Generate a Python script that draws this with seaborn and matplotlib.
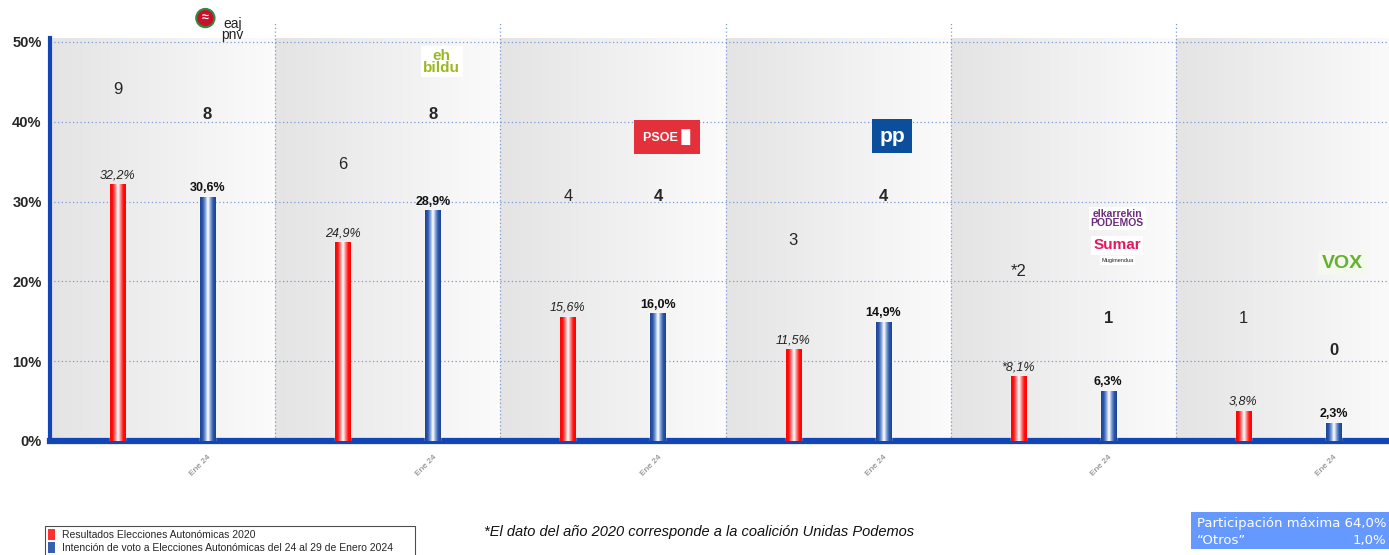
import matplotlib
matplotlib.use("Agg")
import matplotlib.pyplot as plt
import numpy as np
import pandas as pd
import seaborn as sns
from matplotlib.colors import LinearSegmentedColormap
from matplotlib.patches import Patch, Rectangle

# Data
parties = ["PNV", "EH Bildu", "PSOE", "PP", "Podemos/Sumar", "VOX"]
votes_2020 = [32.2, 24.9, 15.6, 11.5, 8.1, 3.8]
votes_2024 = [30.6, 28.9, 16.0, 14.9, 6.3, 2.3]
seats_2020 = [9, 6, 4, 3, 2, 1]
seats_2024 = [8, 8, 4, 4, 1, 0]
starred_2020 = [False, False, False, False, True, False]
tick_labels = ["Ene 24"] * 6
series_names = ["Resultados Elecciones Autonómicas 2020",
                "Intención de voto a Elecciones Autonómicas del 24 al 29 de Enero 2024"]

# Layout: heights (in % units) where the seat numbers sit
seat_y_2020 = [44.0, 34.6, 30.7, 25.1, 21.2, 15.4]
seat_y_2024 = [40.9, 40.9, 30.7, 30.7, 15.4, 11.4]

sns.set_theme(style="white")
plt.rcParams["font.family"] = ["Liberation Sans", "DejaVu Sans"]

df = pd.DataFrame({
    "party": parties * 2,
    "serie": [series_names[0]] * 6 + [series_names[1]] * 6,
    "value": votes_2020 + votes_2024,
})

fig = plt.figure(figsize=(13.89, 5.55), dpi=100)
ax = fig.add_axes([50 / 1389, 114 / 555, 1351 / 1389, 403 / 555])

sns.barplot(data=df, x="party", y="value", hue="serie", hue_order=series_names,
            palette=["#ff0000", "#1f4fa8"], width=0.8, legend=False, ax=ax)

# panel backgrounds (light grey horizontal gradient)
bg = np.linspace(0, 1, 64).reshape(1, -1)
bg_cmap = LinearSegmentedColormap.from_list("bg", ["#e4e4e4", "#fbfbfb"])
for i in range(len(parties)):
    ax.imshow(bg, cmap=bg_cmap, extent=(i - 0.5, i + 0.5, 0, 50.5),
              aspect="auto", zorder=0)

# thin cylinder-like bars
bar_w = 0.067
grad = np.abs(np.linspace(-1, 1, 64)).reshape(1, -1)
cmaps = [LinearSegmentedColormap.from_list("r", ["#ffffff", "#ff8080", "#ff1010", "#ff0000"]),
         LinearSegmentedColormap.from_list("b", ["#ffffff", "#7f9fd6", "#2a56a8", "#1c4494"])]
for cont, cm in zip(ax.containers, cmaps):
    for bar in cont:
        cx = bar.get_x() + bar.get_width() / 2
        bar.set_width(bar_w)
        bar.set_x(cx - bar_w / 2)
        bar.set_zorder(3)
        im = ax.imshow(grad, cmap=cm, extent=(cx - bar_w / 2, cx + bar_w / 2, 0, bar.get_height()),
                       aspect="auto", zorder=4)
        im.set_clip_path(bar)

ax.set_xlim(-0.5, 5.5)
ax.set_ylim(0, 50.5)


def fmt(v):
    return f"{v:.1f}".replace(".", ",") + "%"


# value labels
for i, bar in enumerate(ax.containers[0]):
    txt = ("*" if starred_2020[i] else "") + fmt(votes_2020[i])
    ax.annotate(txt, (bar.get_x() + bar_w / 2, bar.get_height()), xytext=(0, 2),
                textcoords="offset points", ha="center", va="bottom",
                fontsize=9, fontstyle="italic", color="#222222", zorder=6)
for i, bar in enumerate(ax.containers[1]):
    ax.annotate(fmt(votes_2024[i]), (bar.get_x() + bar_w / 2, bar.get_height()), xytext=(0, 2),
                textcoords="offset points", ha="center", va="bottom",
                fontsize=9, fontweight="bold", color="#111111", zorder=6)

# seat numbers
for i in range(len(parties)):
    s = ("*" if starred_2020[i] else "") + str(seats_2020[i])
    ax.text(i - 0.2, seat_y_2020[i], s, ha="center", va="center", fontsize=12, zorder=6)
    ax.text(i + 0.2, seat_y_2024[i], str(seats_2024[i]), ha="center", va="center",
            fontsize=12, fontweight="bold", zorder=6)

# party "logos" as styled text
ax.text(0.19, 53.0, "\u2248", ha="center", va="center", fontsize=9, fontweight="bold",
        color="white", clip_on=False, zorder=6,
        bbox=dict(boxstyle="circle,pad=0.25", fc="#c8102e", ec="#2e8b3e", lw=1.5))
ax.text(0.31, 51.6, "eaj\npnv", ha="center", va="center", fontsize=10, linespacing=0.75,
        color="#222222", clip_on=False, zorder=6)
ax.text(1.24, 47.5, "eh\nbildu", ha="center", va="center", fontsize=11, fontweight="bold",
        linespacing=0.85, color="#9cb820", zorder=6,
        bbox=dict(boxstyle="square,pad=0.15", fc="white", ec="none"))
ax.text(2.24, 38.1, "PSOE \u2588", ha="center", va="center", fontsize=9, fontweight="bold",
        color="white", zorder=6,
        bbox=dict(boxstyle="square,pad=0.75", fc="#e4303a", ec="none"))
ax.text(3.24, 38.2, "pp", ha="center", va="center", fontsize=15, fontweight="bold",
        color="white", zorder=6,
        bbox=dict(boxstyle="square,pad=0.35", fc="#0b4f9c", ec="none"))
ax.text(4.24, 27.9, "elkarrekin\nPODEMOS", ha="center", va="center", fontsize=7.5,
        fontweight="bold", linespacing=0.9, color="#6b2c7c", zorder=6,
        bbox=dict(boxstyle="square,pad=0.2", fc="white", ec="none"))
ax.text(4.24, 24.5, "Sumar", ha="center", va="center", fontsize=11, fontweight="bold",
        color="#e5185c", zorder=6,
        bbox=dict(boxstyle="square,pad=0.15", fc="white", ec="none"))
ax.text(4.24, 22.6, "Mugimendua", ha="center", va="center", fontsize=4, color="#222222",
        zorder=6, bbox=dict(boxstyle="square,pad=0.3", fc="white", ec="none"))
ax.text(5.24, 22.3, "VOX", ha="center", va="center", fontsize=14, fontweight="bold",
        color="#63b22f", zorder=6,
        bbox=dict(boxstyle="square,pad=0.2", fc="#f4f8ef", ec="none"))

# grid and panel separators
grid_kw = dict(color="#7d9ad8", linestyle=(0, (1, 2)), linewidth=0.9, zorder=1)
for y in [10, 20, 30, 40, 50]:
    ax.axhline(y, **grid_kw)
for i in range(len(parties) - 1):
    ax.axvline(i + 0.5, ymin=0, ymax=1.04, clip_on=False, **grid_kw)

# axes styling
ax.set_xlabel("")
ax.set_ylabel("")
ax.set_yticks([0, 10, 20, 30, 40, 50])
ax.set_yticklabels(["0%", "10%", "20%", "30%", "40%", "50%"], fontsize=10.5, fontweight="bold")
ax.set_xticks([i + 0.2 for i in range(len(parties))])
ax.set_xticklabels(tick_labels, rotation=45, ha="right", va="top", rotation_mode="anchor",
                   fontsize=6, color="#777777")
ax.tick_params(axis="both", length=0)
ax.tick_params(axis="y", pad=6)
ax.tick_params(axis="x", pad=9)
for side in ["top", "right"]:
    ax.spines[side].set_visible(False)
ax.spines["left"].set_color("#1145b8")
ax.spines["left"].set_linewidth(3)
ax.spines["bottom"].set_color("#1145b8")
ax.spines["bottom"].set_linewidth(4.5)

# legend
handles = [Patch(facecolor="#ff3030", edgecolor="none"),
           Patch(facecolor="#3560b0", edgecolor="none")]
leg = fig.legend(handles, series_names, loc="lower left",
                 bbox_to_anchor=(45 / 1389, -0.002, 370 / 1389, 0.07), mode="expand",
                 fontsize=7.5, frameon=True, fancybox=False, handlelength=0.7,
                 handleheight=1.3, handletextpad=0.6, labelspacing=0.15,
                 borderpad=0.3, borderaxespad=0)
leg.get_frame().set_edgecolor("#222222")
leg.get_frame().set_linewidth(0.8)

# footnote
fig.text(0.503, 0.041, "*El dato del año 2020 corresponde a la coalición Unidas Podemos",
         ha="center", va="center", fontsize=10.5, fontstyle="italic", color="#111111")

# participation box
fig.patches.append(Rectangle((1191 / 1389, 6 / 555), 200 / 1389, 37 / 555,
                             transform=fig.transFigure, facecolor="#6699ff",
                             edgecolor="none", zorder=1))
fig.text(1197 / 1389, 0.057, "Participación máxima 64,0%", ha="left", va="center",
         fontsize=9.5, color="white", family="DejaVu Sans")
fig.text(1197 / 1389, 0.027, "\u201cOtros\u201d", ha="left", va="center",
         fontsize=9.5, color="white", family="DejaVu Sans")
fig.text(0.998, 0.027, "1,0%", ha="right", va="center",
         fontsize=9.5, color="white", family="DejaVu Sans")

fig.savefig("out.png", dpi=100)
